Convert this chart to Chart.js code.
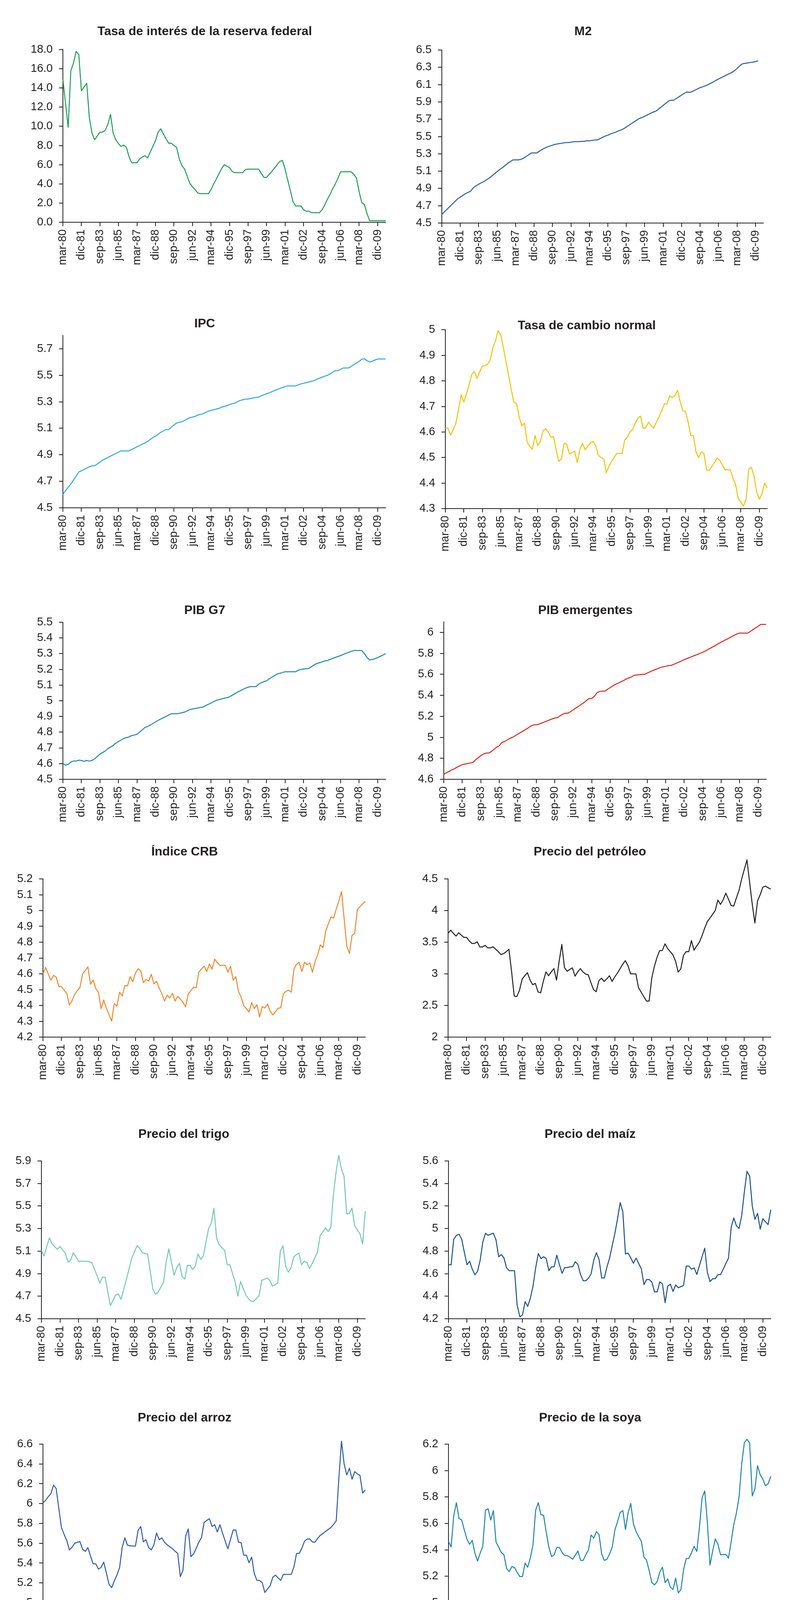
<!DOCTYPE html>
<html>
<head>
<meta charset="utf-8">
<script src="https://cdn.jsdelivr.net/npm/chart.js@4.4.1/dist/chart.umd.min.js"></script>
<style>
  html, body { margin: 0; padding: 0; background: #ffffff; }
  body { position: relative; width: 2012px; height: 4954px; overflow: hidden; }
  canvas { position: absolute; }
</style>
</head>
<body>
<script>
// ---------- categories (quarters) ----------
const CATEGORIES = [
"mar-80","jun-80","sep-80","dic-80","mar-81","jun-81","sep-81","dic-81",
"mar-82","jun-82","sep-82","dic-82","mar-83","jun-83","sep-83","dic-83",
"mar-84","jun-84","sep-84","dic-84","mar-85","jun-85","sep-85","dic-85",
"mar-86","jun-86","sep-86","dic-86","mar-87","jun-87","sep-87","dic-87",
"mar-88","jun-88","sep-88","dic-88","mar-89","jun-89","sep-89","dic-89",
"mar-90","jun-90","sep-90","dic-90","mar-91","jun-91","sep-91","dic-91",
"mar-92","jun-92","sep-92","dic-92","mar-93","jun-93","sep-93","dic-93",
"mar-94","jun-94","sep-94","dic-94","mar-95","jun-95","sep-95","dic-95",
"mar-96","jun-96","sep-96","dic-96","mar-97","jun-97","sep-97","dic-97",
"mar-98","jun-98","sep-98","dic-98","mar-99","jun-99","sep-99","dic-99",
"mar-00","jun-00","sep-00","dic-00","mar-01","jun-01","sep-01","dic-01",
"mar-02","jun-02","sep-02","dic-02","mar-03","jun-03","sep-03","dic-03",
"mar-04","jun-04","sep-04","dic-04","mar-05","jun-05","sep-05","dic-05",
"mar-06","jun-06","sep-06","dic-06","mar-07","jun-07","sep-07","dic-07",
"mar-08","jun-08","sep-08","dic-08","mar-09","jun-09","sep-09","dic-09",
"mar-10","jun-10","sep-10"
];
const X_LABEL_EVERY = 7;

// ---------- series values ----------
const FED_RATE = [
14.9,12.4,9.9,15.8,16.6,17.8,17.5,13.7,14.1,14.5,
10.9,9.3,8.6,9.0,9.4,9.4,9.6,10.2,11.25,9.3,
8.6,8.2,7.9,8.05,7.8,6.85,6.2,6.2,6.2,6.6,
6.8,6.94,6.7,7.3,7.9,8.5,9.4,9.74,9.2,8.7,
8.24,8.24,8.0,7.8,6.6,5.9,5.55,4.8,4.05,3.7,
3.4,3.05,2.98,2.98,2.98,2.98,3.4,4.0,4.5,5.05,
5.6,6.0,5.85,5.7,5.3,5.17,5.17,5.17,5.17,5.5,
5.54,5.54,5.54,5.54,5.54,5.1,4.68,4.68,5.0,5.3,
5.65,6.0,6.35,6.45,5.55,4.4,3.3,2.15,1.7,1.7,
1.7,1.3,1.15,1.15,1.0,1.0,1.0,1.0,1.3,1.8,
2.4,2.9,3.5,4.0,4.6,5.26,5.26,5.26,5.26,5.26,
5.0,4.6,3.2,2.05,1.85,0.9,0.16,0.16,0.16,0.16,
0.16,0.16,0.16
];
const M2 = [
4.60,4.63,4.66,4.69,4.72,4.75,4.78,4.80,4.82,4.84,
4.855,4.87,4.91,4.93,4.95,4.965,4.98,5.00,5.02,5.045,
5.07,5.095,5.12,5.14,5.165,5.19,5.21,5.23,5.23,5.23,
5.235,5.25,5.27,5.29,5.31,5.31,5.31,5.33,5.35,5.365,
5.38,5.39,5.40,5.41,5.415,5.42,5.425,5.43,5.43,5.435,
5.44,5.44,5.44,5.445,5.445,5.45,5.45,5.455,5.46,5.46,
5.475,5.49,5.505,5.515,5.53,5.54,5.55,5.565,5.575,5.59,
5.61,5.63,5.65,5.67,5.69,5.71,5.72,5.735,5.75,5.765,
5.78,5.79,5.81,5.835,5.86,5.885,5.91,5.92,5.92,5.94,
5.96,5.98,6.00,6.015,6.01,6.02,6.035,6.05,6.065,6.075,
6.085,6.10,6.115,6.13,6.15,6.165,6.18,6.195,6.21,6.225,
6.24,6.26,6.285,6.315,6.34,6.345,6.35,6.355,6.36,6.365,
6.375
];
const IPC = [
4.60,4.63,4.655,4.68,4.71,4.74,4.77,4.78,4.79,4.80,
4.81,4.817,4.817,4.83,4.845,4.86,4.87,4.88,4.89,4.90,
4.91,4.92,4.93,4.93,4.93,4.93,4.94,4.95,4.96,4.97,
4.98,4.99,5.00,5.015,5.03,5.04,5.055,5.07,5.08,5.09,
5.09,5.11,5.125,5.14,5.145,5.15,5.16,5.17,5.18,5.185,
5.19,5.20,5.205,5.21,5.22,5.23,5.235,5.24,5.245,5.25,
5.26,5.265,5.27,5.28,5.285,5.29,5.30,5.31,5.315,5.32,
5.32,5.325,5.33,5.333,5.336,5.345,5.353,5.36,5.368,5.376,
5.385,5.393,5.40,5.408,5.415,5.42,5.42,5.42,5.42,5.428,
5.435,5.44,5.445,5.45,5.455,5.46,5.47,5.478,5.486,5.493,
5.50,5.51,5.523,5.535,5.535,5.545,5.555,5.555,5.555,5.567,
5.58,5.592,5.605,5.62,5.625,5.61,5.60,5.607,5.615,5.623,
5.623,5.623,5.623
];
const TASA_CAMBIO = [
4.615,4.615,4.588,4.61,4.634,4.69,4.746,4.718,4.75,4.785,
4.825,4.837,4.81,4.835,4.858,4.86,4.865,4.882,4.93,4.957,
4.997,4.98,4.93,4.875,4.82,4.765,4.715,4.712,4.658,4.624,
4.635,4.56,4.543,4.532,4.586,4.547,4.563,4.604,4.613,4.60,
4.58,4.582,4.53,4.485,4.495,4.556,4.552,4.514,4.52,4.525,
4.48,4.532,4.556,4.53,4.545,4.556,4.563,4.545,4.509,4.50,
4.495,4.441,4.465,4.485,4.50,4.516,4.516,4.516,4.569,4.58,
4.60,4.61,4.635,4.655,4.662,4.613,4.617,4.638,4.625,4.615,
4.64,4.66,4.683,4.71,4.71,4.742,4.735,4.742,4.763,4.72,
4.683,4.681,4.64,4.586,4.586,4.522,4.50,4.522,4.515,4.452,
4.45,4.465,4.48,4.498,4.489,4.47,4.452,4.452,4.452,4.42,
4.394,4.339,4.325,4.31,4.339,4.455,4.461,4.428,4.364,4.337,
4.357,4.40,4.38
];
const PIB_G7 = [
4.60,4.59,4.595,4.61,4.616,4.616,4.622,4.62,4.614,4.62,
4.616,4.62,4.63,4.645,4.66,4.67,4.68,4.695,4.705,4.715,
4.73,4.74,4.75,4.76,4.765,4.77,4.778,4.782,4.786,4.80,
4.815,4.83,4.836,4.845,4.855,4.865,4.875,4.884,4.892,4.90,
4.91,4.917,4.917,4.917,4.92,4.924,4.928,4.935,4.945,4.948,
4.951,4.954,4.957,4.96,4.97,4.978,4.985,4.995,5.003,5.007,
5.012,5.016,5.02,5.025,5.035,5.045,5.055,5.063,5.072,5.08,
5.087,5.09,5.09,5.09,5.105,5.115,5.122,5.127,5.14,5.15,
5.16,5.17,5.175,5.18,5.185,5.185,5.185,5.185,5.185,5.195,
5.20,5.202,5.204,5.206,5.218,5.228,5.238,5.242,5.248,5.253,
5.257,5.263,5.27,5.276,5.282,5.288,5.295,5.302,5.308,5.315,
5.32,5.32,5.32,5.32,5.30,5.275,5.26,5.263,5.268,5.275,
5.283,5.291,5.30
];
const PIB_EMERGENTES = [
4.65,4.662,4.675,4.69,4.70,4.715,4.728,4.74,4.745,4.75,
4.755,4.76,4.785,4.805,4.825,4.84,4.85,4.85,4.865,4.885,
4.905,4.92,4.95,4.96,4.975,4.99,5.0,5.015,5.03,5.045,
5.06,5.075,5.09,5.108,5.118,5.12,5.125,5.135,5.145,5.155,
5.165,5.175,5.184,5.187,5.205,5.22,5.23,5.23,5.245,5.262,
5.28,5.295,5.313,5.33,5.35,5.37,5.37,5.39,5.425,5.437,
5.44,5.44,5.458,5.474,5.49,5.505,5.515,5.528,5.54,5.555,
5.565,5.575,5.59,5.594,5.597,5.60,5.60,5.612,5.624,5.635,
5.645,5.655,5.665,5.672,5.677,5.682,5.685,5.695,5.706,5.717,
5.728,5.74,5.75,5.76,5.77,5.78,5.79,5.80,5.81,5.822,
5.836,5.85,5.864,5.878,5.893,5.907,5.92,5.933,5.946,5.96,
5.973,5.986,5.993,5.993,5.993,5.993,6.008,6.025,6.042,6.058,
6.076,6.076,6.076
];
const INDICE_CRB = [
4.60,4.64,4.60,4.56,4.59,4.58,4.52,4.52,4.496,4.477,
4.403,4.43,4.47,4.494,4.514,4.60,4.62,4.644,4.534,4.56,
4.506,4.484,4.38,4.435,4.382,4.342,4.301,4.413,4.395,4.484,
4.461,4.526,4.524,4.583,4.55,4.605,4.632,4.62,4.544,4.565,
4.555,4.597,4.537,4.553,4.51,4.474,4.428,4.465,4.448,4.477,
4.428,4.458,4.44,4.42,4.392,4.474,4.495,4.516,4.512,4.61,
4.63,4.648,4.615,4.663,4.63,4.693,4.67,4.654,4.654,4.654,
4.61,4.648,4.56,4.582,4.489,4.453,4.398,4.38,4.359,4.418,
4.38,4.405,4.327,4.393,4.384,4.41,4.364,4.34,4.36,4.382,
4.385,4.474,4.49,4.496,4.484,4.63,4.66,4.674,4.615,4.674,
4.658,4.669,4.61,4.678,4.72,4.783,4.765,4.869,4.914,4.96,
4.952,5.008,5.061,5.12,4.95,4.775,4.729,4.843,4.855,5.006,
5.025,5.042,5.058
];
const PETROLEO = [
3.64,3.69,3.64,3.596,3.65,3.61,3.576,3.576,3.52,3.48,
3.48,3.507,3.424,3.424,3.45,3.41,3.41,3.426,3.39,3.35,
3.304,3.32,3.35,3.388,3.04,2.65,2.64,2.74,2.917,2.97,
3.018,2.9,2.828,2.849,2.714,2.70,2.88,3.03,2.97,3.03,
3.084,2.9,3.2,3.464,3.10,3.04,3.07,3.094,2.963,3.03,
3.082,3.03,2.995,2.985,2.86,2.75,2.717,2.89,2.932,2.879,
2.92,2.97,2.88,2.95,3.01,3.08,3.15,3.208,3.13,3.0,
3.0,3.0,2.78,2.71,2.64,2.57,2.57,2.93,3.12,3.26,
3.368,3.368,3.474,3.40,3.35,3.30,3.2,3.026,3.08,3.292,
3.35,3.35,3.525,3.373,3.44,3.50,3.60,3.72,3.824,3.88,
3.94,4.00,4.166,4.097,4.17,4.275,4.18,4.08,4.07,4.2,
4.318,4.50,4.65,4.80,4.45,4.1,3.803,4.15,4.25,4.37,
4.385,4.36,4.338
];
const TRIGO = [
5.105,5.057,5.14,5.217,5.164,5.14,5.116,5.141,5.11,5.082,
5.003,5.017,5.086,5.05,5.01,5.01,5.01,5.01,5.005,4.999,
4.94,4.88,4.816,4.868,4.868,4.74,4.617,4.665,4.713,4.72,
4.673,4.76,4.85,4.94,5.036,5.09,5.148,5.125,5.086,5.08,
5.075,4.92,4.761,4.717,4.738,4.78,4.823,5.006,5.12,5.0,
4.886,4.954,4.992,4.875,4.852,4.974,4.974,4.937,4.97,5.075,
5.027,5.058,5.18,5.302,5.347,5.481,5.215,5.155,5.13,5.107,
4.979,4.979,4.9,4.825,4.70,4.83,4.77,4.71,4.68,4.655,
4.655,4.68,4.704,4.841,4.85,4.862,4.841,4.79,4.80,4.816,
5.10,5.148,4.965,4.913,4.948,5.045,5.07,5.082,4.979,5.01,
4.999,4.944,4.99,5.04,5.091,5.237,5.27,5.306,5.274,5.309,
5.60,5.80,5.95,5.83,5.765,5.43,5.437,5.481,5.327,5.29,
5.254,5.164,5.453
];
const MAIZ = [
4.679,4.679,4.905,4.94,4.95,4.906,4.79,4.679,4.71,4.64,
4.59,4.62,4.72,4.88,4.958,4.94,4.95,4.958,4.899,4.75,
4.768,4.74,4.651,4.626,4.626,4.626,4.321,4.218,4.232,4.351,
4.31,4.383,4.489,4.65,4.778,4.734,4.75,4.734,4.626,4.661,
4.661,4.764,4.68,4.603,4.654,4.654,4.661,4.661,4.706,4.681,
4.592,4.537,4.537,4.56,4.599,4.72,4.786,4.727,4.562,4.562,
4.66,4.74,4.85,4.958,5.088,5.231,5.149,4.775,4.782,4.74,
4.692,4.738,4.69,4.644,4.503,4.548,4.548,4.525,4.438,4.438,
4.527,4.509,4.342,4.489,4.507,4.442,4.50,4.475,4.485,4.495,
4.668,4.668,4.64,4.651,4.593,4.672,4.75,4.826,4.61,4.53,
4.555,4.555,4.592,4.592,4.64,4.69,4.738,5.009,5.094,5.025,
5.002,5.115,5.325,5.508,5.465,5.20,5.082,5.135,4.995,5.088,
5.06,5.036,5.167
];
const ARROZ = [
6.007,6.033,6.07,6.10,6.187,6.152,5.95,5.757,5.69,5.63,
5.532,5.56,5.60,5.61,5.617,5.54,5.518,5.556,5.47,5.392,
5.392,5.339,5.357,5.41,5.30,5.187,5.152,5.22,5.28,5.354,
5.56,5.655,5.58,5.574,5.572,5.571,5.729,5.769,5.615,5.635,
5.556,5.533,5.585,5.704,5.635,5.655,5.61,5.585,5.565,5.545,
5.52,5.498,5.263,5.328,5.673,5.745,5.465,5.491,5.55,5.61,
5.658,5.81,5.83,5.848,5.769,5.787,5.714,5.787,5.70,5.62,
5.544,5.64,5.734,5.734,5.612,5.605,5.48,5.48,5.404,5.46,
5.293,5.225,5.225,5.202,5.103,5.14,5.172,5.258,5.278,5.25,
5.225,5.286,5.286,5.286,5.286,5.362,5.498,5.498,5.55,5.62,
5.643,5.643,5.612,5.612,5.65,5.68,5.699,5.72,5.74,5.76,
5.79,5.825,6.254,6.63,6.40,6.289,6.357,6.246,6.322,6.30,
6.284,6.106,6.137
];
const SOYA = [
5.464,5.422,5.66,5.757,5.637,5.626,5.55,5.48,5.443,5.472,
5.375,5.315,5.375,5.429,5.70,5.711,5.626,5.697,5.46,5.42,
5.38,5.363,5.26,5.235,5.274,5.266,5.23,5.198,5.198,5.30,
5.269,5.34,5.44,5.70,5.757,5.666,5.662,5.534,5.422,5.349,
5.363,5.418,5.418,5.38,5.357,5.357,5.345,5.329,5.36,5.392,
5.321,5.321,5.363,5.40,5.512,5.489,5.538,5.515,5.369,5.32,
5.329,5.37,5.422,5.551,5.614,5.683,5.697,5.554,5.68,5.751,
5.597,5.54,5.50,5.466,5.346,5.32,5.24,5.152,5.135,5.16,
5.232,5.269,5.152,5.18,5.118,5.10,5.186,5.075,5.10,5.25,
5.335,5.335,5.38,5.428,5.388,5.569,5.794,5.846,5.609,5.285,
5.39,5.483,5.443,5.363,5.364,5.365,5.338,5.46,5.591,5.68,
5.80,6.05,6.21,6.237,6.208,5.808,5.86,6.037,5.968,5.935,
5.885,5.90,5.957
];
const ALGODON = [
5.46,5.416,5.669,5.747,5.657,5.624,5.55,5.467,5.442,5.47,
5.35,5.322,5.37,5.42,5.683,5.705,5.63,5.693,5.452,5.41,
5.374,5.368,5.248,5.232,5.274,5.266,5.23,5.197,5.197,5.298,
5.262,5.314,5.422,5.675,5.744,5.662,5.656,5.518,5.43,5.35,
5.36,5.412,5.412,5.38,5.358,5.358,5.34,5.329,5.36,5.386,
5.32,5.32,5.36,5.398,5.512,5.494,5.53,5.512,5.368,5.32,
5.326,5.37,5.422,5.534,5.62,5.666,5.687,5.56,5.68,5.743,
5.59,5.54,5.49,5.458,5.344,5.326,5.20,5.15,5.13,5.164,
5.236,5.266,5.149,5.16,5.121,5.101,5.19,5.082,5.103,5.22,
5.332,5.334,5.352,5.428,5.39,5.669,5.76,5.837,5.55,5.284,
5.38,5.47,5.442,5.358,5.362,5.366,5.338,5.47,5.608,5.705,
5.85,6.05,6.198,6.234,6.195,5.81,5.87,6.032,5.951,5.90,
5.863,5.863,5.939
];

// ---------- y tick labels ----------
const FED_TICKS   = ["0.0","2.0","4.0","6.0","8.0","10.0","12.0","14.0","16.0","18.0"];
const M2_TICKS    = ["4.5","4.7","4.9","5.1","5.3","5.5","5.7","5.9","6.1","6.3","6.5"];
const IPC_TICKS   = ["4.5","4.7","4.9","5.1","5.3","5.5","5.7"];
const TASA_TICKS  = ["4.3","4.4","4.5","4.6","4.7","4.8","4.9","5"];
const G7_TICKS    = ["4.5","4.6","4.7","4.8","4.9","5","5.1","5.2","5.3","5.4","5.5"];
const EMERG_TICKS = ["4.6","4.8","5","5.2","5.4","5.6","5.8","6"];
const CRB_TICKS   = ["4.2","4.3","4.4","4.5","4.6","4.7","4.8","4.9","5","5.1","5.2"];
const PETRO_TICKS = ["2","2.5","3","3.5","4","4.5"];
const TRIGO_TICKS = ["4.5","4.7","4.9","5.1","5.3","5.5","5.7","5.9"];
const MAIZ_TICKS  = ["4.2","4.4","4.6","4.8","5","5.2","5.4","5.6"];
const ARROZ_TICKS = ["5","5.2","5.4","5.6","5.8","6","6.2","6.4","6.6"];
const SOYA_TICKS  = ["5","5.2","5.4","5.6","5.8","6","6.2"];
const ALGOD_TICKS = ["5","5.2","5.4","5.6","5.8","6","6.2"];

// ---------- chart definitions (layout kept separate from data) ----------
const CHARTS = [
  { title: "Tasa de interés de la reserva federal", data: FED_RATE, ticks: FED_TICKS, min: 0, max: 18,
    color: "#1a9e55", plot: [161, 987, 127, 569], titleY: 81, padR: 128 },
  { title: "M2", data: M2, ticks: M2_TICKS, min: 4.5, max: 6.5,
    color: "#2a5aa8", plot: [1131, 1954, 128, 571], titleY: 81, padR: 93 },
  { title: "IPC", data: IPC, ticks: IPC_TICKS, min: 4.5, max: 5.8,
    color: "#29a8e0", plot: [161, 987, 859, 1300], titleY: 829, padR: 128 },
  { title: "Tasa de cambio normal", data: TASA_CAMBIO, ticks: TASA_TICKS, min: 4.3, max: 5,
    color: "#f2c200", plot: [1140, 1964, 839, 1302], titleY: 829, padR: 76 },
  { title: "PIB G7", data: PIB_G7, ticks: G7_TICKS, min: 4.5, max: 5.5,
    color: "#1b86b4", plot: [161, 987, 1593, 1995], titleY: 1563, padR: 128 },
  { title: "PIB emergentes", data: PIB_EMERGENTES, ticks: EMERG_TICKS, min: 4.6, max: 6.1,
    color: "#e2231a", plot: [1136, 1961, 1592, 1995], titleY: 1563, padR: 83 },
  { title: "Índice CRB", data: INDICE_CRB, ticks: CRB_TICKS, min: 4.2, max: 5.2,
    color: "#f0872a", plot: [110, 935, 2250, 2655], titleY: 2181, padR: 91 },
  { title: "Precio del petróleo", data: PETROLEO, ticks: PETRO_TICKS, min: 2, max: 4.5,
    color: "#231f20", plot: [1147, 1973, 2250, 2655], titleY: 2181, padR: 70 },
  { title: "Precio del trigo", data: TRIGO, ticks: TRIGO_TICKS, min: 4.5, max: 5.9,
    color: "#72c9ab", plot: [106, 935, 2972, 3376], titleY: 2904, padR: 133 },
  { title: "Precio del maíz", data: MAIZ, ticks: MAIZ_TICKS, min: 4.2, max: 5.6,
    color: "#1a4f8a", plot: [1148, 1973, 2972, 3376], titleY: 2904, padR: 69 },
  { title: "Precio del arroz", data: ARROZ, ticks: ARROZ_TICKS, min: 5, max: 6.6,
    color: "#2b5aaa", plot: [110, 935, 3697, 4103], titleY: 3630, padR: 123 },
  { title: "Precio de la soya", data: SOYA, ticks: SOYA_TICKS, min: 5, max: 6.2,
    color: "#1b84a8", plot: [1148, 1973, 3697, 4103], titleY: 3630, padR: 69 },
  { title: "Precio del algodón", data: ALGODON, ticks: ALGOD_TICKS, min: 5, max: 6.2,
    color: "#9e2b5e", plot: [643, 1471, 4417, 4822], titleY: 4346, padR: 54 }
];

const FONT = "'Liberation Sans', Arial, Helvetica, sans-serif";
const INK = "#231f20";
const Y_AXIS_W = 100;
const X_AXIS_H = 130;
const TITLE_SIZE = 32;
const TITLE_LH = 36;

function buildChart(spec) {
  const [pl, pr, pt, pb] = spec.plot;
  const left = pl - Y_AXIS_W;
  const top = spec.titleY - TITLE_LH / 2;
  const width = pr - left + spec.padR;
  const height = pb - top + X_AXIS_H;

  const canvas = document.createElement("canvas");
  canvas.width = width;
  canvas.height = height;
  canvas.style.left = left + "px";
  canvas.style.top = top + "px";
  canvas.style.width = width + "px";
  canvas.style.height = height + "px";
  document.body.appendChild(canvas);

  const tickValues = spec.ticks.map(Number);

  new Chart(canvas, {
    type: "line",
    data: {
      labels: CATEGORIES,
      datasets: [{
        data: spec.data,
        borderColor: spec.color,
        borderWidth: 2.5,
        borderJoinStyle: "round",
        pointRadius: 0,
        tension: 0,
        fill: false,
        clip: false
      }]
    },
    options: {
      responsive: false,
      animation: false,
      devicePixelRatio: 1,
      layout: { padding: { left: 0, top: 0, right: spec.padR, bottom: 0 } },
      plugins: {
        legend: { display: false },
        tooltip: { enabled: false },
        title: {
          display: true,
          text: spec.title,
          color: INK,
          fullSize: true,
          font: { family: FONT, size: TITLE_SIZE, weight: "bold", lineHeight: TITLE_LH / TITLE_SIZE },
          padding: { top: 0, bottom: pt - spec.titleY - TITLE_LH / 2 }
        }
      },
      scales: {
        x: {
          type: "category",
          offset: false,
          grid: { display: true, drawOnChartArea: false, drawTicks: true, tickLength: 10, color: INK, lineWidth: 2 },
          border: { display: true, color: INK, width: 2 },
          ticks: {
            autoSkip: false, minRotation: 90, maxRotation: 90, padding: 8,
            color: INK, font: { family: FONT, size: 29 }
          },
          afterBuildTicks: (scale) => {
            scale.ticks = scale.ticks.filter((t, i) => i % X_LABEL_EVERY === 0);
          },
          afterFit: (scale) => { scale.height = X_AXIS_H; }
        },
        y: {
          type: "linear",
          min: spec.min,
          max: spec.max,
          grid: { display: true, drawOnChartArea: false, drawTicks: true, tickLength: 10, color: INK, lineWidth: 2 },
          border: { display: true, color: INK, width: 2 },
          ticks: {
            padding: 16, color: INK, font: { family: FONT, size: 29 },
            callback: (value, index) => spec.ticks[index]
          },
          afterBuildTicks: (scale) => {
            scale.ticks = tickValues.map(v => ({ value: v }));
          },
          afterFit: (scale) => { scale.width = Y_AXIS_W; }
        }
      }
    }
  });
}

CHARTS.forEach(buildChart);
</script>
</body>
</html>
